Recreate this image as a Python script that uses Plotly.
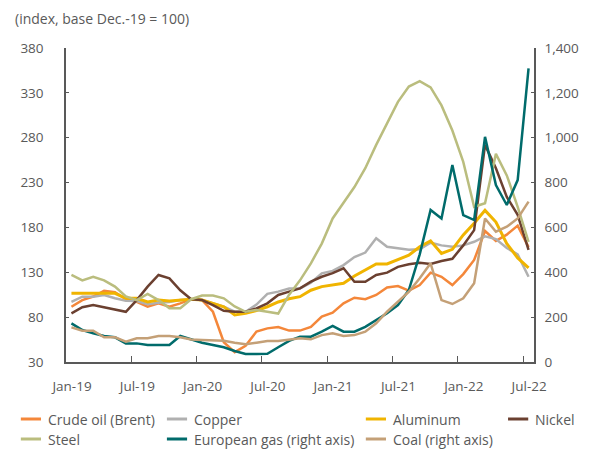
import plotly.graph_objects as go

# monthly, Jan-19 .. Jul-22
months = ["Jan-19", "Feb-19", "Mar-19", "Apr-19", "May-19", "Jun-19", "Jul-19", "Aug-19", "Sep-19", "Oct-19", "Nov-19", "Dec-19",
          "Jan-20", "Feb-20", "Mar-20", "Apr-20", "May-20", "Jun-20", "Jul-20", "Aug-20", "Sep-20", "Oct-20", "Nov-20", "Dec-20",
          "Jan-21", "Feb-21", "Mar-21", "Apr-21", "May-21", "Jun-21", "Jul-21", "Aug-21", "Sep-21", "Oct-21", "Nov-21", "Dec-21",
          "Jan-22", "Feb-22", "Mar-22", "Apr-22", "May-22", "Jun-22", "Jul-22"]

crude = [91.6, 99, 103, 109.5, 107.7, 100, 97, 91.6, 95.4, 91.6, 95.4, 100,
         99, 86, 52, 41, 48, 64, 67.5, 69, 65, 65, 69, 80.5,
         85, 95.4, 101.7, 100, 104.7, 113, 114.7, 109.5, 115.8, 129.6, 125, 115.8,
         128, 143.7, 176, 165, 172, 182, 158]
copper = [97, 102.8, 102.8, 104.7, 101, 98.4, 98, 94.3, 96, 97, 99, 100,
          99, 95, 91.6, 86, 86, 94, 106, 108.4, 112, 112, 118.4, 128.8,
          131.5, 138, 147, 152, 168, 158.5, 156.7, 155, 155.6, 163, 160, 158.5,
          160, 164, 170, 167, 157, 150, 125]
aluminum = [106.6, 106.6, 106.6, 106.6, 106.6, 101, 101, 97, 99, 98, 99, 100,
            99, 95, 91.6, 82.4, 84.3, 87.2, 91.6, 96.9, 100.5, 102.8, 110, 114,
            115.5, 117.7, 125.9, 132.6, 139.3, 139.3, 143.7, 149, 158.5, 165, 151, 155.6,
            171.6, 184.6, 199, 186, 162, 146, 135]
nickel = [84.3, 91, 93.5, 91, 88, 86, 99, 114, 127, 123.3, 110, 100,
          99, 93.5, 87, 86, 86, 89.8, 95.4, 104.7, 108.4, 112, 119.5, 125,
          129, 134.5, 119.5, 119.5, 127, 129.6, 136, 139, 140.7, 139.3, 142.6, 145,
          160, 177, 272, 246, 214, 194, 155]
steel = [127, 121, 125, 121, 114, 103, 99, 106, 99, 90, 90, 100,
         104, 104, 101, 92, 86, 88, 86, 84, 105, 121, 140, 162,
         190, 207, 225, 246, 272, 296, 320, 337, 343, 336, 316, 288,
         253, 203, 207, 262, 238, 203, 164]
# right axis
eu_gas = [172.5, 142.7, 128, 116, 110, 83, 83, 75.8, 75.8, 75.8, 116, 100,
          86, 75.8, 65.4, 49, 36, 36, 37, 66, 94, 113, 113, 135,
          161, 135, 135, 157, 187, 217, 254, 321, 480, 678, 640, 878,
          655, 633, 1004, 789, 700, 811, 1309]
coal = [154.6, 139.7, 139.7, 110, 110, 90.6, 105.6, 105.6, 116, 116, 110, 100,
        98, 95, 95, 86, 78.8, 86, 93.6, 93.6, 100, 105.6, 101, 120,
        128, 116, 120, 135, 172.5, 224, 269, 313, 373, 440, 276, 258.6,
        284, 351, 640, 581, 603, 640, 715]

x = [i + 0.5 for i in range(len(months))]
tick_pos = list(range(0, 43, 6))
tick_txt = [months[i] for i in tick_pos]

# page body has an 8px margin, so the figure is drawn 8px smaller and everything
# is positioned relative to the reference picture minus that offset
OFF = 8
W, H = 591 - OFF, 449 - OFF
L, T = 61 - OFF, 48 - OFF
R, B = W - (548 - OFF), H - (362 - OFF)
pw, ph = W - L - R, H - T - B


def px(xp):
    return (xp - OFF - L) / pw


def py(yp):
    return (H - B - (yp - OFF)) / ph


font = "Open Sans, Noto Sans, sans-serif"
grey = "#595959"

series = [
    ("Crude oil (Brent)", crude, "#F4873A", "y", 2.5),
    ("Copper", copper, "#B0B0B0", "y", 2.5),
    ("Aluminum", aluminum, "#F0B400", "y", 3),
    ("Nickel", nickel, "#6B4030", "y", 2.5),
    ("Steel", steel, "#BABD7E", "y", 2.5),
    ("European gas (right axis)", eu_gas, "#006B6B", "y2", 2.5),
    ("Coal (right axis)", coal, "#C4A077", "y2", 2.5),
]

fig = go.Figure()
for name, vals, col, ax, w in series:
    fig.add_trace(go.Scatter(x=x, y=vals, name=name, mode="lines", yaxis=ax,
                             line=dict(color=col, width=w), showlegend=False))

# hand-placed legend to match the two-row layout
legend_pos = [(14, 419), (166, 419), (373, 419), (521, 419),
              (14, 439), (166, 439), (373, 439)]
shapes = []
annotations = []
for (name, vals, col, ax, w), (lx, ly) in zip(series, legend_pos):
    ln = 21
    shapes.append(dict(type="line", xref="paper", yref="paper",
                       x0=px(lx), x1=px(lx + ln), y0=py(ly), y1=py(ly),
                       line=dict(color=col, width=3)))
    annotations.append(dict(text=name, xref="paper", yref="paper",
                            x=px(lx + ln + 5), y=py(ly), xanchor="left", yanchor="middle",
                            showarrow=False, font=dict(size=14, color=grey, family=font)))

annotations.append(dict(text="(index, base Dec.-19 = 100)", xref="paper", yref="paper",
                        x=px(6), y=py(19), xanchor="left", yanchor="middle",
                        showarrow=False, font=dict(size=14, color=grey, family=font)))

fig.update_layout(
    width=W, height=H,
    margin=dict(l=L, r=R, t=T, b=B),
    plot_bgcolor="white", paper_bgcolor="white",
    font=dict(family=font, size=13, color=grey),
    xaxis=dict(range=[0, 43], tickvals=tick_pos, ticktext=tick_txt,
               ticks="inside", ticklen=6, tickcolor=grey, tickwidth=1,
               showline=True, linecolor=grey, linewidth=1.5,
               showgrid=False, zeroline=False, ticklabelshift=6,
               ticklabelstandoff=11, tickfont=dict(size=13.5)),
    yaxis=dict(range=[30, 380], tickvals=list(range(30, 381, 50)),
               ticks="inside", ticklen=3, tickcolor=grey,
               showline=True, linecolor=grey, linewidth=1.5,
               showgrid=False, zeroline=False, ticklabelstandoff=18,
               tickfont=dict(size=13.5)),
    yaxis2=dict(range=[0, 1400], tickvals=list(range(0, 1401, 200)), tickformat=",",
                overlaying="y", side="right",
                ticks="inside", ticklen=3, tickcolor=grey,
                showline=True, linecolor=grey, linewidth=1.5,
                showgrid=False, zeroline=False, ticklabelstandoff=6,
                tickfont=dict(size=13.5)),
    shapes=shapes,
    annotations=annotations,
)

fig.write_html("out.html")
